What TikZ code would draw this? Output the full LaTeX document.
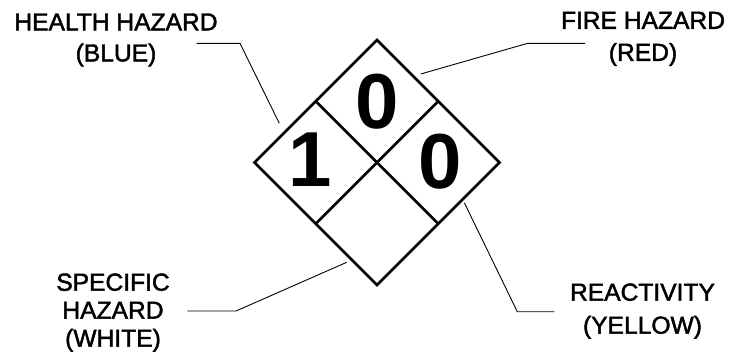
\documentclass[tikz,border=0pt]{standalone}
\usepackage{fontspec}
\setmainfont{Liberation Sans}
\newfontfamily\lblfont{Liberation Sans}[FakeBold=1.8]
\usetikzlibrary{calc}
\begin{document}
\begin{tikzpicture}[x=1bp,y=-1bp,
  lbl/.style={anchor=north,inner sep=0pt,align=center},
  digit/.style={anchor=base,inner sep=0pt,font=\fontsize{78bp}{78bp}\selectfont\bfseries},
  leader/.style={line width=0.9bp},
  frame/.style={line width=2.6bp,line join=miter}]
\useasboundingbox (0,0) rectangle (732,354);
% diamond corners
\coordinate (T) at (377,40);
\coordinate (R) at (499.5,162.5);
\coordinate (B) at (377,285);
\coordinate (L) at (254.5,162.5);
\coordinate (C) at (377,162.5);
\draw[frame] (T) -- (R) -- (B) -- (L) -- cycle;
\draw[frame] ($(T)!0.5!(L)$) -- (C) -- ($(R)!0.5!(B)$);
\draw[frame] ($(T)!0.5!(R)$) -- (C) -- ($(L)!0.5!(B)$);
% digits
\node[digit] (dtop) at (376.7,128.5) {0};
\node[digit] (dleft) at (310,186.7) {1};
\node[digit] (dright) at (440,188) {0};
% labels
\node[lbl,font=\lblfont\fontsize{24.6bp}{31bp}\selectfont] (health) at (116,13.3) {HEALTH HAZARD\\(BLUE)};
\node[lbl,font=\lblfont\fontsize{24.6bp}{32bp}\selectfont] (fire) at (643,11.7) {FIRE HAZARD\\(RED)};
\node[lbl,font=\lblfont\fontsize{24.6bp}{28bp}\selectfont] (spec) at (113,273.3) {SPECIFIC\\HAZARD\\(WHITE)};
\node[lbl,font=\lblfont\fontsize{24.6bp}{33bp}\selectfont] (react) at (642.5,283.3) {REACTIVITY\\(YELLOW)};
% leader lines
\coordinate (h0) at (196.7,43.3); \coordinate (h1) at (240,43.3); \coordinate (h2) at (279.3,123.3);
\coordinate (f0) at (585,43.3); \coordinate (f1) at (527.7,43.3); \coordinate (f2) at (420.7,74);
\coordinate (s0) at (187.3,311); \coordinate (s1) at (236,311); \coordinate (s2) at (346.7,262.3);
\coordinate (r0) at (554.3,311.7); \coordinate (r1) at (517.3,311.7); \coordinate (r2) at (464.3,202.7);
\draw[leader] (h0) -- (h1) -- (h2);
\draw[leader] (f0) -- (f1) -- (f2);
\draw[leader] (s0) -- (s1) -- (s2);
\draw[leader] (r0) -- (r1) -- (r2);
\end{tikzpicture}
\end{document}
